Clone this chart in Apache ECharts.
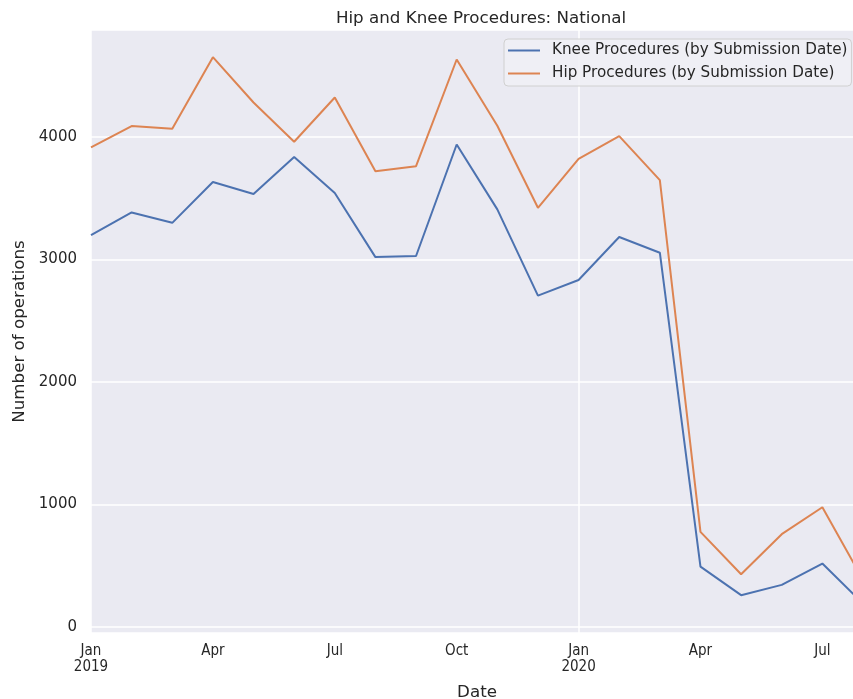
<!DOCTYPE html>
<html>
<head>
<meta charset="utf-8">
<script src="https://cdn.jsdelivr.net/npm/echarts@6/dist/echarts.min.js"></script>
<style>
  html, body { margin: 0; padding: 0; background: #fff; overflow: hidden; }
  /* the plot runs a little past the right edge of the picture, as in the source */
  #chart { width: 863px; height: 699px; }
</style>
</head>
<body>
<div id="chart"></div>
<script>
// months, Jan 2019 .. Aug 2020
const months = [
  "2019-01", "2019-02", "2019-03", "2019-04", "2019-05", "2019-06",
  "2019-07", "2019-08", "2019-09", "2019-10", "2019-11", "2019-12",
  "2020-01", "2020-02", "2020-03", "2020-04", "2020-05", "2020-06",
  "2020-07", "2020-08"
];
// tick labels (only quarters shown)
const monthLabels = [
  "Jan\n2019", "", "", "Apr", "", "", "Jul", "", "", "Oct", "", "",
  "Jan\n2020", "", "", "Apr", "", "", "Jul", ""
];
const kneeValues = [
  3200, 3385, 3300, 3633, 3535, 3837, 3543, 3020, 3029, 3940, 3410, 2705,
  2833, 3184, 3056, 492, 259, 343, 517, 190
];
const hipValues = [
  3916, 4090, 4068, 4653, 4283, 3962, 4324, 3722, 3763, 4634, 4093, 3423,
  3823, 4008, 3649, 776, 430, 757, 977, 385
];
const yTicks = [0, 1000, 2000, 3000, 4000];

const textColor = "#262626";
const font = "DejaVu Sans";

var myChart = echarts.init(document.getElementById("chart"));
var option = {
  animation: false,
  backgroundColor: "#fff",
  title: {
    text: "Hip and Knee Procedures: National",
    left: 476,
    top: 5,
    textAlign: "center",
    textStyle: { color: textColor, fontSize: 16.7, fontWeight: "normal", fontFamily: font }
  },
  legend: {
    orient: "vertical",
    left: 504,
    top: 39,
    padding: [4, 4, 5, 4],
    itemGap: 8,
    itemWidth: 32,
    itemHeight: 2,
    icon: "rect",
    backgroundColor: "rgba(240,240,245,0.9)",
    borderColor: "#d0d0d0",
    borderWidth: 1,
    borderRadius: 4,
    textStyle: { color: textColor, fontSize: 15.2, fontFamily: font, padding: [0, 0, 0, 7] },
    data: ["Knee Procedures (by Submission Date)", "Hip Procedures (by Submission Date)"]
  },
  grid: {
    show: true,
    backgroundColor: "#EAEAF2",
    borderWidth: 0,
    left: 91,
    right: 0,
    top: 30,
    bottom: 66,
    containLabel: false,
    outerBoundsMode: "none"
  },
  xAxis: {
    type: "category",
    data: months,
    boundaryGap: false,
    name: "Date",
    nameLocation: "middle",
    nameGap: 51,
    nameTextStyle: { color: textColor, fontSize: 16.7, fontFamily: font },
    axisLine: { show: false },
    axisTick: { show: false },
    axisLabel: {
      interval: function (i) { return monthLabels[i] !== ""; },
      formatter: function (v, i) { return monthLabels[i]; },
      color: textColor,
      fontSize: 15,
      fontFamily: "'Liberation Sans Narrow', 'DejaVu Sans Condensed', 'DejaVu Sans'",
      lineHeight: 16,
      margin: 10
    },
    splitLine: {
      show: true,
      interval: function (i) { return i % 12 === 0; },
      lineStyle: { color: "#fff", width: 1.5 }
    }
  },
  yAxis: {
    type: "value",
    min: -50,
    max: 4875,
    splitNumber: 5,
    name: "Number of operations",
    nameLocation: "middle",
    nameGap: 62,
    nameTextStyle: { color: textColor, fontSize: 16.7, fontFamily: font },
    axisLine: { show: false },
    axisTick: { show: false },
    axisLabel: {
      color: textColor,
      fontSize: 15,
      fontFamily: font,
      margin: 14,
      formatter: function (v) { return yTicks.indexOf(v) >= 0 ? String(v) : ""; }
    },
    splitLine: { lineStyle: { color: "#fff", width: 1.5 } }
  },
  series: [
    {
      name: "Knee Procedures (by Submission Date)",
      type: "line",
      data: kneeValues,
      symbol: "none",
      lineStyle: { color: "#4C72B0", width: 2 },
      itemStyle: { color: "#4C72B0" }
    },
    {
      name: "Hip Procedures (by Submission Date)",
      type: "line",
      data: hipValues,
      symbol: "none",
      lineStyle: { color: "#DD8452", width: 2 },
      itemStyle: { color: "#DD8452" }
    }
  ]
};
myChart.setOption(option);
</script>
</body>
</html>
